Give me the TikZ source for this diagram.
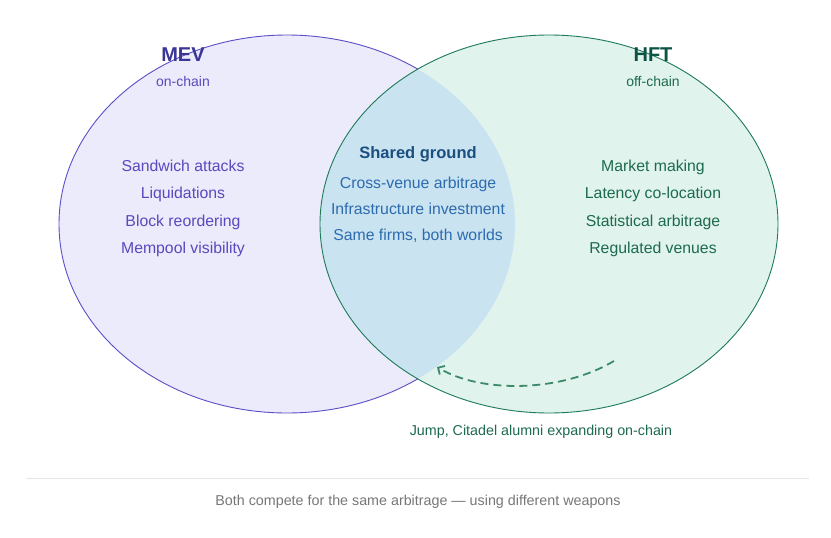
\documentclass[tikz,border=0pt]{standalone}
\usepackage{fontspec}
\setmainfont{Liberation Sans}
\usetikzlibrary{arrows.meta}
\definecolor{mevfill}{HTML}{ECEBFC}
\definecolor{mevline}{HTML}{5B4FC7}
\definecolor{mevtitle}{HTML}{3A3597}
\definecolor{mevtext}{HTML}{5A48BD}
\definecolor{hftfill}{HTML}{E0F3EC}
\definecolor{hftline}{HTML}{1F7A5A}
\definecolor{hfttitle}{HTML}{0B5345}
\definecolor{hfttext}{HTML}{1D6B4E}
\definecolor{lensfill}{HTML}{C9E3F0}
\definecolor{sharedtitle}{HTML}{1A4F7F}
\definecolor{sharedtext}{HTML}{2D6BB0}
\definecolor{arrowcol}{HTML}{3D8A6A}
\definecolor{capcol}{HTML}{777777}
\definecolor{rulecol}{HTML}{E5E5E5}
\tikzset{
  item/.style={font=\fontsize{15.8}{19}\selectfont, anchor=center, inner sep=0pt, text height=11.5pt, text depth=3.3pt},
  ttl/.style={font=\fontsize{20}{24}\selectfont\bfseries, anchor=center, inner sep=0pt},
  sub/.style={font=\fontsize{14}{17}\selectfont, anchor=center, inner sep=0pt},
  small/.style={font=\fontsize{14.3}{17}\selectfont, anchor=center, inner sep=0pt},
}
\begin{document}
\begin{tikzpicture}[x=1pt,y=-1pt]
\useasboundingbox[fill=white] (0,0) rectangle (831,538);
% ellipses
\fill[mevfill] (287,224) ellipse [x radius=228, y radius=189];
\draw[mevline, line width=0.9pt] (287,224) ellipse [x radius=228, y radius=189];
\fill[hftfill] (549,224) ellipse [x radius=229, y radius=189];
\begin{scope}
  \clip (287,224) ellipse [x radius=228, y radius=189];
  \fill[lensfill] (549,224) ellipse [x radius=229, y radius=189];
\end{scope}
\draw[hftline, line width=0.9pt] (549,224) ellipse [x radius=229, y radius=189];
% titles
\node[ttl, text=mevtitle] (mev) at (183,55) {MEV};
\node[sub, text=mevtext] (mevsub) at (183,81) {on-chain};
\node[ttl, text=hfttitle] (hft) at (653,55) {HFT};
\node[sub, text=hfttext] (hftsub) at (653,81) {off-chain};
% MEV list
\node[item, text=mevtext] (m1) at (183,167.5) {Sandwich attacks};
\node[item, text=mevtext] (m2) at (183,194.5) {Liquidations};
\node[item, text=mevtext] (m3) at (183,222.5) {Block reordering};
\node[item, text=mevtext] (m4) at (183,249.5) {Mempool visibility};
% shared
\node[font=\fontsize{16.5}{20}\selectfont\bfseries, inner sep=0pt, text=sharedtitle] (sg) at (418,154) {Shared ground};
\node[item, text=sharedtext] (s1) at (418,184.5) {Cross-venue arbitrage};
\node[item, text=sharedtext] (s2) at (418,210.5) {Infrastructure investment};
\node[item, text=sharedtext] (s3) at (418,236.5) {Same firms, both worlds};
% HFT list
\node[item, text=hfttext] (h1) at (653,167.5) {Market making};
\node[item, text=hfttext] (h2) at (653,194.5) {Latency co-location};
\node[item, text=hfttext] (h3) at (653,222.5) {Statistical arbitrage};
\node[item, text=hfttext] (h4) at (653,249.5) {Regulated venues};
% arrow
\coordinate (as) at (614,361);
\coordinate (ae) at (437,367);
\draw[arrowcol, line width=1.8pt, dash pattern=on 8pt off 5pt, -{Straight Barb[length=5pt,width=10pt]}]
  (as) .. controls (560,393) and (480,393) .. (ae);
\node[small, text=hfttext] (jump) at (541,431.5) {Jump, Citadel alumni expanding on-chain};
% rule and caption
\coordinate (r1) at (26,478);
\coordinate (r2) at (809,478);
\draw[rulecol, line width=1pt] (r1) -- (r2);
\node[small, text=capcol] (cap) at (418,501.5) {Both compete for the same arbitrage — using different weapons};
\end{tikzpicture}
\end{document}
